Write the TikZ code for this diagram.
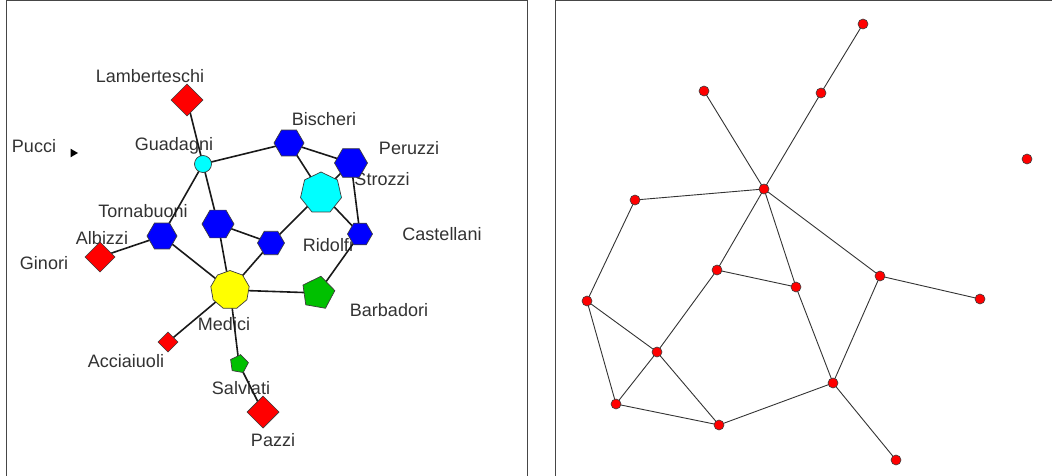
\documentclass[tikz,border=0pt]{standalone}
\usepackage{fontspec}
\setmainfont{Liberation Sans}
\usetikzlibrary{shapes.geometric}
\definecolor{nblue}{RGB}{0,0,255}
\definecolor{ncyan}{RGB}{0,255,255}
\definecolor{nyellow}{RGB}{255,255,0}
\definecolor{ngreen}{RGB}{0,192,0}
\definecolor{nred}{RGB}{255,0,0}
\definecolor{outl}{RGB}{60,60,60}
\definecolor{txt}{RGB}{50,50,50}
\definecolor{frm}{RGB}{70,70,70}
\pgfdeclarelayer{lab}
\pgfdeclarelayer{edges}
\pgfsetlayers{lab,edges,main}
\tikzset{
  shp/.style={draw=outl, line width=0.7pt, inner sep=0pt, outer sep=0pt},
  hexa/.style={shp, regular polygon, regular polygon sides=6, fill=nblue, minimum size=#1},
  dia/.style={shp, diamond, aspect=1, fill=nred, minimum size=#1},
  penta/.style={shp, regular polygon, regular polygon sides=5, fill=ngreen, minimum size=#1},
  lbl/.style={text=txt, font=\fontsize{18}{20}\selectfont, inner sep=0pt},
  ledge/.style={line width=1.6pt, black!90},
  rnode/.style={shp, circle, fill=nred, minimum size=10pt, line width=0.6pt},
  redge/.style={line width=0.9pt, black!80},
}
\begin{document}
\begin{tikzpicture}[x=1pt,y=-1pt]
\useasboundingbox (0,0) rectangle (1052,476);
% frames
\draw[frm, line width=1pt] (6,490) -- (6,1) -- (527,1) -- (527,490);
\draw[frm, line width=1pt] (555,490) -- (555,1) -- (1060,1);

% ---------- left panel nodes ----------
\node[dia=32] (lam) at (187,100) {};
\node[shp, regular polygon, regular polygon sides=3, shape border rotate=-90, fill=black, draw=none, minimum size=10] (puc) at (73,153) {};
\node[shp, circle, fill=ncyan, minimum size=17] (gua) at (203,164) {};
\node[hexa=30] (bis) at (289,143) {};
\node[hexa=33] (per) at (351,163) {};
\node[shp, regular polygon, regular polygon sides=7, fill=ncyan, minimum size=42] (str) at (321,193) {};
\node[hexa=25] (cas) at (360,234) {};
\node[hexa=32] (tor) at (218,224) {};
\node[hexa=27] (rid) at (271,243) {};
\node[hexa=30] (alb) at (162,236) {};
\node[dia=30] (gin) at (100,257) {};
\node[shp, regular polygon, regular polygon sides=9, fill=nyellow, minimum size=39] (med) at (230,290) {};
\node[penta=34, shape border rotate=-10] (bar) at (318,293) {};
\node[dia=20] (acc) at (168,342) {};
\node[penta=19, shape border rotate=-10] (sal) at (239,364) {};
\node[dia=32] (paz) at (263,412) {};

% ---------- left labels ----------
\begin{pgfonlayer}{lab}
\node[lbl] (tlam) at (150,76) {Lamberteschi};
\node[lbl] (tpuc) at (34,146) {Pucci};
\node[lbl] (tgua) at (174,146) {Guadagni};
\node[lbl] (tbis) at (324,119) {Bischeri};
\node[lbl] (tper) at (409,148) {Peruzzi};
\node[lbl] (tstr) at (382,179) {Strozzi};
\node[lbl] (tcas) at (442,234) {Castellani};
\node[lbl] (ttor) at (143,211) {Tornabuoni};
\node[lbl] (talb) at (102,238) {Albizzi};
\node[lbl] (trid) at (328,245) {Ridolfi};
\node[lbl] (tgin) at (44,263) {Ginori};
\node[lbl] (tbar) at (389,310) {Barbadori};
\node[lbl] (tmed) at (224,324) {Medici};
\node[lbl] (tacc) at (126,361) {Acciaiuoli};
\node[lbl] (tsal) at (241,388) {Salviati};
\node[lbl] (tpaz) at (273,440) {Pazzi};
\end{pgfonlayer}

% ---------- left edges ----------
\begin{pgfonlayer}{edges}
\draw[ledge] (lam.center) -- (gua.center);
\draw[ledge] (gua.center) -- (bis.center);
\draw[ledge] (gua.center) -- (alb.center);
\draw[ledge] (gua.center) -- (tor.center);
\draw[ledge] (bis.center) -- (per.center);
\draw[ledge] (bis.center) -- (str.center);
\draw[ledge] (per.center) -- (str.center);
\draw[ledge] (per.center) -- (cas.center);
\draw[ledge] (str.center) -- (cas.center);
\draw[ledge] (str.center) -- (rid.center);
\draw[ledge] (cas.center) -- (bar.center);
\draw[ledge] (tor.center) -- (rid.center);
\draw[ledge] (tor.center) -- (med.center);
\draw[ledge] (rid.center) -- (med.center);
\draw[ledge] (alb.center) -- (med.center);
\draw[ledge] (alb.center) -- (gin.center);
\draw[ledge] (med.center) -- (bar.center);
\draw[ledge] (med.center) -- (acc.center);
\draw[ledge] (med.center) -- (sal.center);
\draw[ledge] (sal.center) -- (paz.center);
\end{pgfonlayer}

% ---------- right panel ----------
\node[rnode] (ra) at (863,24) {};
\node[rnode] (rb) at (704,91) {};
\node[rnode] (rc) at (821,93) {};
\node[rnode] (rd) at (1027,159) {};
\node[rnode] (re) at (764,189) {};
\node[rnode] (rf) at (635,200) {};
\node[rnode] (rg) at (717,270) {};
\node[rnode] (rh) at (796,287) {};
\node[rnode] (ri) at (880,276) {};
\node[rnode] (rj) at (980,299) {};
\node[rnode] (rk) at (587,301) {};
\node[rnode] (rl) at (657,352) {};
\node[rnode] (rm) at (833,383) {};
\node[rnode] (rn) at (616,404) {};
\node[rnode] (ro) at (719,425) {};
\node[rnode] (rp) at (896,460) {};
\begin{pgfonlayer}{edges}
\draw[redge] (ra.center) -- (rc.center);
\draw[redge] (rc.center) -- (re.center);
\draw[redge] (rb.center) -- (re.center);
\draw[redge] (re.center) -- (rf.center);
\draw[redge] (re.center) -- (rg.center);
\draw[redge] (re.center) -- (rh.center);
\draw[redge] (re.center) -- (ri.center);
\draw[redge] (ri.center) -- (rj.center);
\draw[redge] (ri.center) -- (rm.center);
\draw[redge] (rg.center) -- (rh.center);
\draw[redge] (rg.center) -- (rl.center);
\draw[redge] (rh.center) -- (rm.center);
\draw[redge] (rf.center) -- (rk.center);
\draw[redge] (rk.center) -- (rl.center);
\draw[redge] (rk.center) -- (rn.center);
\draw[redge] (rl.center) -- (rn.center);
\draw[redge] (rl.center) -- (ro.center);
\draw[redge] (rn.center) -- (ro.center);
\draw[redge] (ro.center) -- (rm.center);
\draw[redge] (rm.center) -- (rp.center);
\end{pgfonlayer}
\end{tikzpicture}
\end{document}
